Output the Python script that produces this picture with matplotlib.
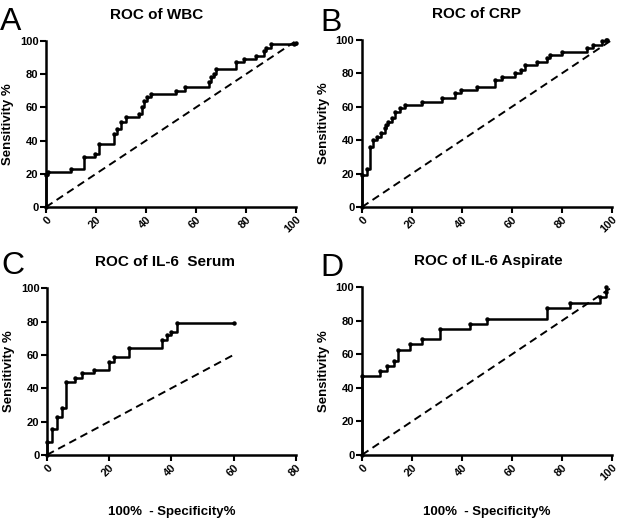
import matplotlib
matplotlib.use("Agg")
import matplotlib.pyplot as plt

plt.rcParams['font.family'] = ['Liberation Sans', 'DejaVu Sans']
plt.rcParams['font.weight'] = 'bold'

# ROC staircases (x = 100% - specificity, y = sensitivity)
wbc_x = [0, 0, 0.7, 10, 15, 19.5, 21, 27, 28.5, 30, 32, 37, 38.5, 39, 40.5, 42,
         52, 55.5, 65, 66, 67, 68, 76, 79, 84, 87, 88, 90, 99, 100]
wbc_y = [0, 19, 21, 23, 30, 32, 38, 44, 47, 51, 54, 56, 60, 64, 66, 68,
         70, 72, 75, 78, 80, 83, 87, 89, 91, 94, 96, 98, 98, 99]

crp_x = [0, 0, 2, 3, 4.5, 6, 7.5, 9, 9.5, 10.5, 12, 13, 15, 17, 24, 32, 37, 39.5,
         46, 53, 56, 61, 63.5, 65, 70, 74, 75, 80, 90, 92.5, 96, 97.5, 98]
crp_y = [0, 19, 23, 36, 40, 42, 44, 47, 49, 51, 53, 57, 59, 61, 63, 65, 68, 70,
         72, 76, 78, 80, 82, 85, 87, 89, 91, 93, 95, 97, 99, 100, 100]

il6s_x = [0, 0, 1.6, 3.2, 4.8, 6.1, 9.1, 11.2, 15, 19.8, 21.4, 26.5, 36.9, 38.5,
          40, 41.7, 60]
il6s_y = [0, 8, 15.5, 23, 28, 44, 46, 49, 51, 56, 59, 64, 69, 72, 74, 79, 79]

il6a_x = [0, 0, 7, 10, 12.7, 14.5, 19, 24, 31, 43, 50, 74, 83, 95, 97.5, 97.5]
il6a_y = [0, 47, 50, 53, 56, 62.5, 66, 69, 75, 78, 81, 87.5, 90.5, 94, 97, 100]

panels = [
    # letter, title, x, y, xmax, diag end, axes rect, title x (px), letter y (px)
    ('A', 'ROC of WBC', wbc_x, wbc_y, 100, 100, [0.074, 0.605, 0.402, 0.317], 157, 22),
    ('B', 'ROC of CRP', crp_x, crp_y, 100, 100, [0.582, 0.605, 0.402, 0.319], 477, 23),
    ('C', 'ROC of IL-6  Serum', il6s_x, il6s_y, 80, 60, [0.0756, 0.132, 0.400, 0.318], 165, 266),
    ('D', 'ROC of IL-6 Aspirate', il6a_x, il6a_y, 100, 100, [0.582, 0.132, 0.402, 0.320], 488, 268),
]

fig = plt.figure(figsize=(6.22, 5.24), dpi=100)

for i, (letter, title, xs, ys, xmax, dend, rect, tx, ly) in enumerate(panels):
    ax = fig.add_axes(rect)
    ax.plot(xs, ys, drawstyle='steps-post', color='black', lw=1.8, clip_on=False)
    ax.plot(xs, ys, 'o', color='black', ms=2.2, clip_on=False)
    ax.plot([0, dend], [0, dend], '--', color='black', lw=1.4, dashes=(4, 2.5),
            clip_on=False)

    ax.set_xlim(0, xmax)
    ax.set_ylim(0, 100)
    ax.set_xticks(range(0, xmax + 1, 20))
    ax.set_yticks(range(0, 101, 20))
    for s in ['top', 'right']:
        ax.spines[s].set_visible(False)
    for s in ['left', 'bottom']:
        ax.spines[s].set_linewidth(1.8)
    ax.tick_params(width=1.5, length=4, labelsize=8, pad=1.5)
    for lab in ax.get_xticklabels():
        lab.set_rotation(45)
        lab.set_ha('right')
        lab.set_rotation_mode('anchor')
        lab.set_fontweight('bold')
    for lab in ax.get_yticklabels():
        lab.set_fontweight('bold')

    ax.set_ylabel('Sensitivity %', fontsize=9.5, fontweight='bold', labelpad=4)
    if i >= 2:
        # the 80 tick label is shorter than 100, so C needs a little more pad
        ax.set_xlabel('100%  - Specificity%', fontsize=9.5, fontweight='bold',
                      labelpad=20 if i == 2 else 17)

    left = rect[0] * 622
    fig.text((left - 46 + (0 if i % 2 == 0 else 4)) / 622, 1 - ly / 524,
             letter, fontsize=23, fontweight='normal', va='center', ha='left')
    top = (1 - rect[1] - rect[3]) * 524
    fig.text(tx / 622, 1 - (top - 26) / 524, title, fontsize=11,
             fontweight='bold', va='center', ha='center')

fig.savefig('out.png', dpi=100)
